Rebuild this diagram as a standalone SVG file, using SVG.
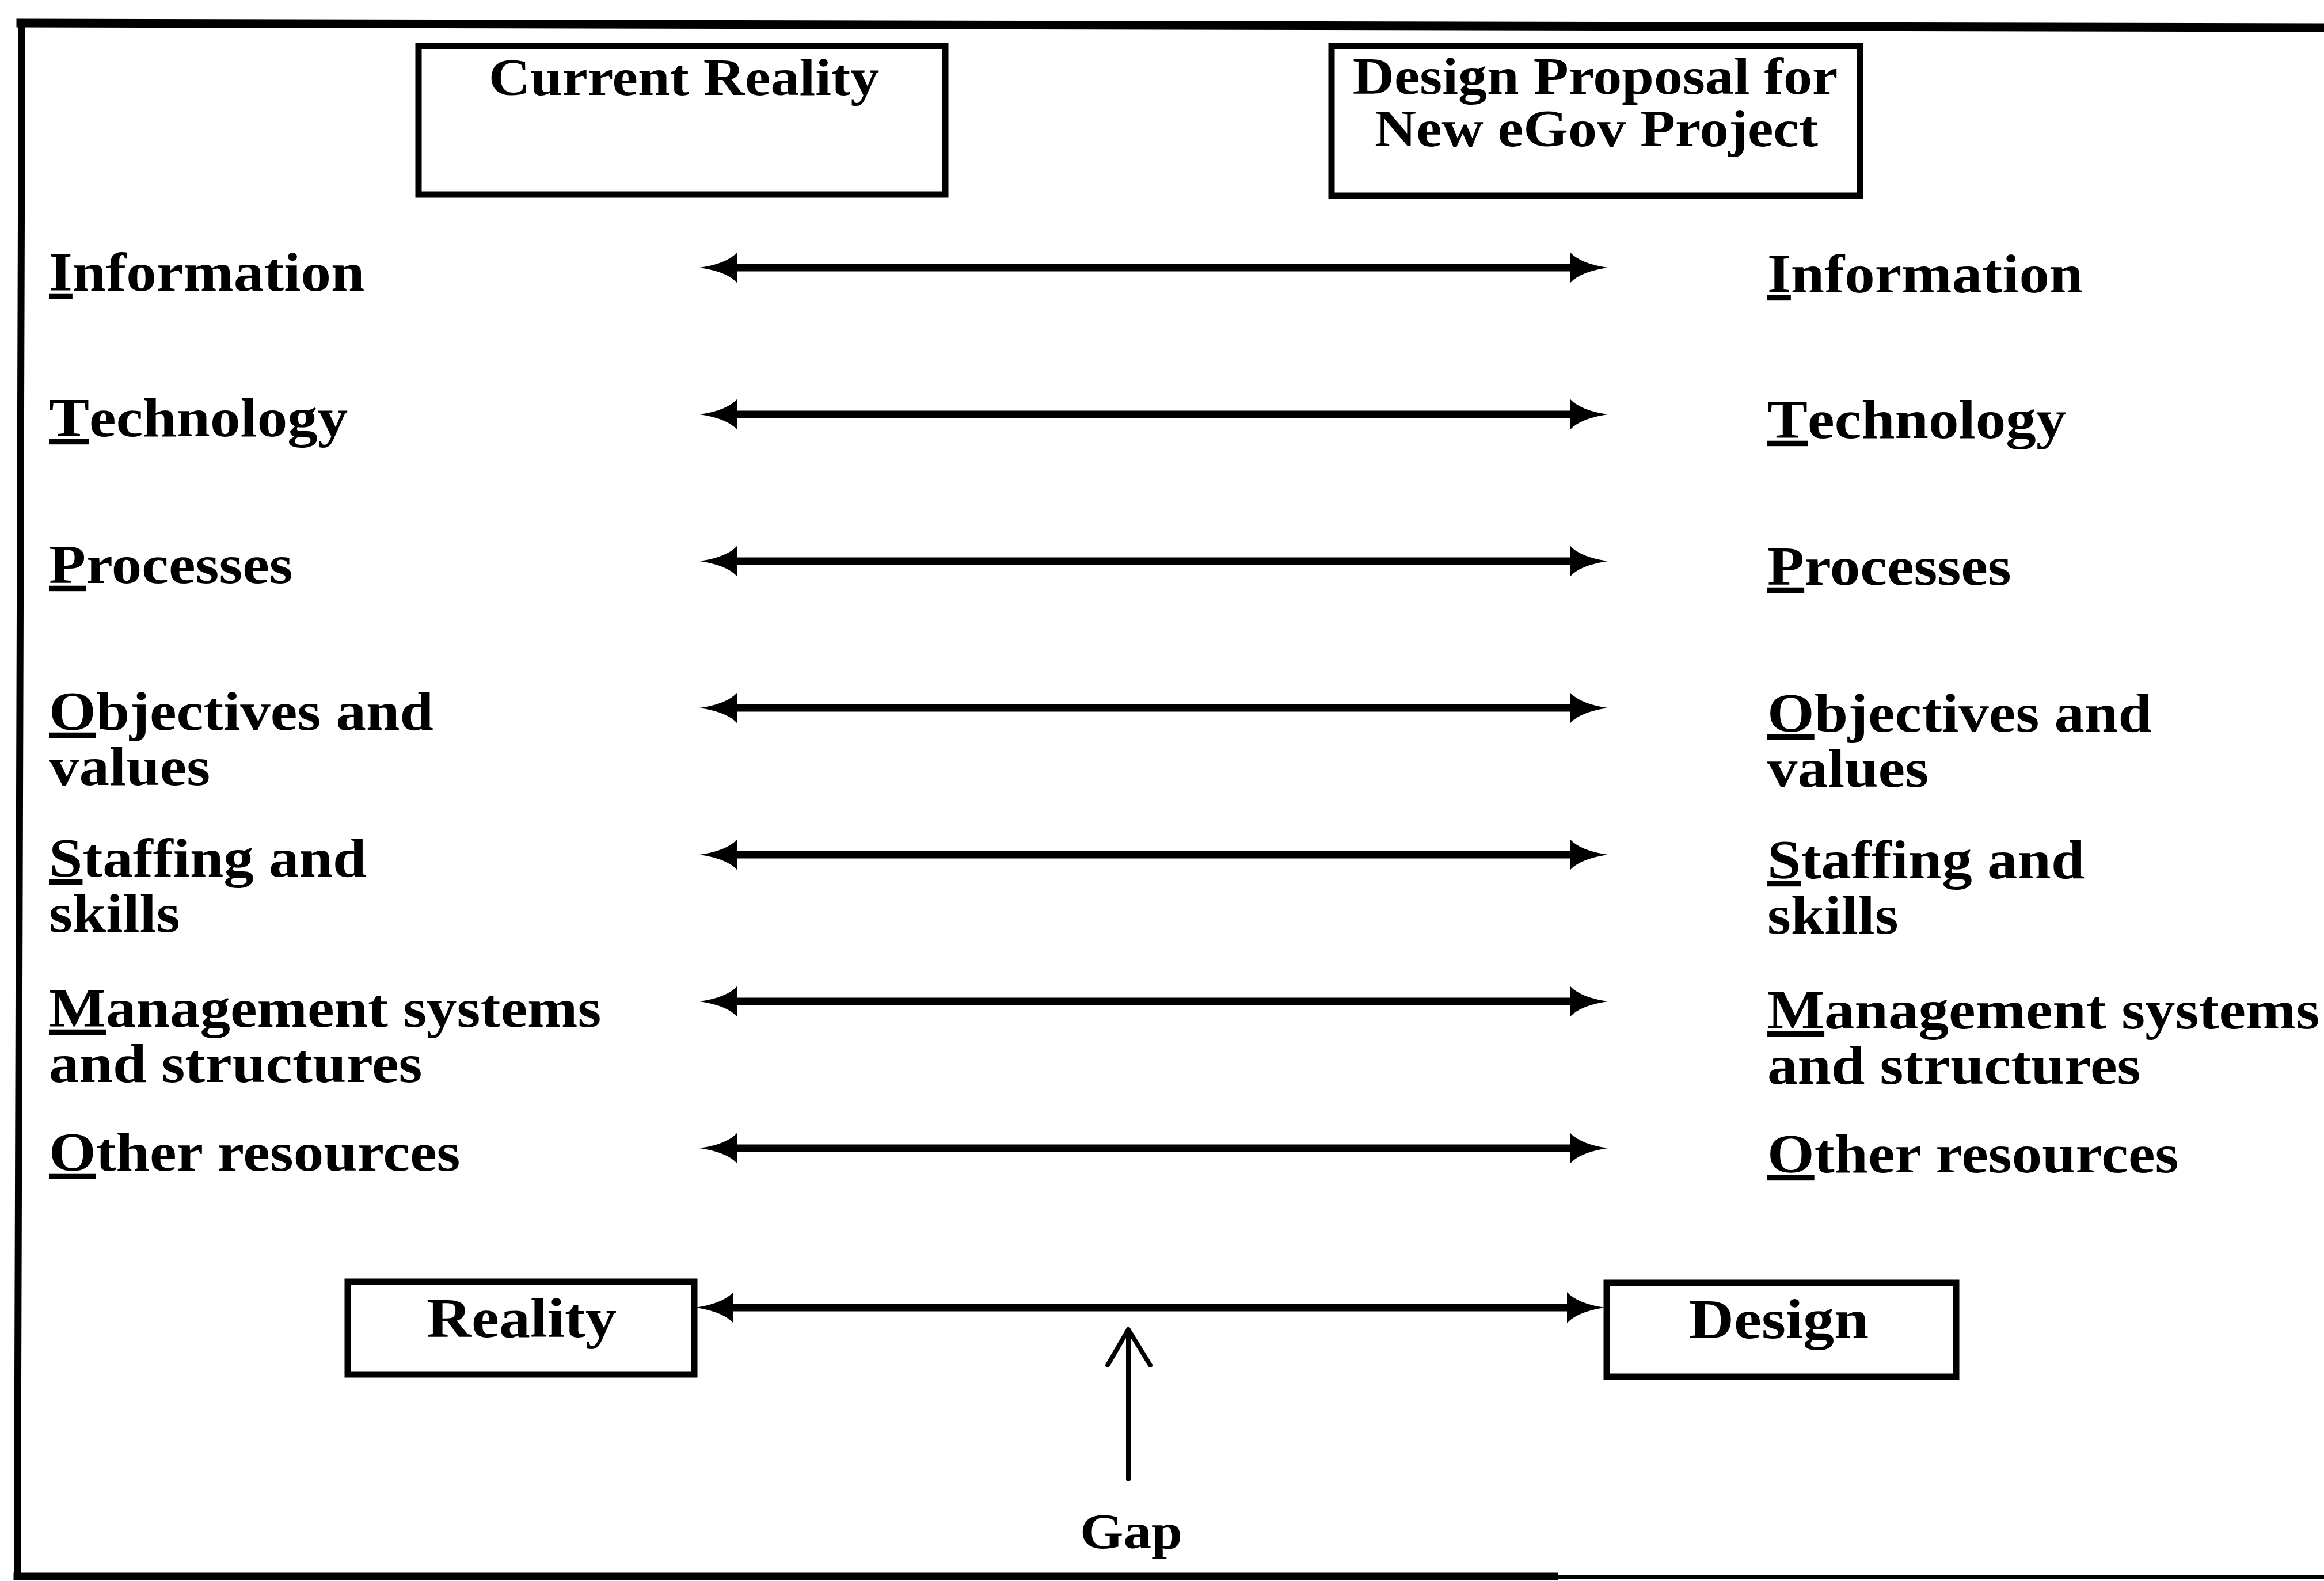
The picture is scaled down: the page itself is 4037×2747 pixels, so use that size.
<svg xmlns="http://www.w3.org/2000/svg" width="4037" height="2747" viewBox="0 0 4037 2747">
  <style>
    .t { font-family: "Liberation Serif", "Times New Roman", serif; font-weight: bold; fill: #000; }
    .lbl { font-size: 105px; }
    .hdr { font-size: 100px; text-anchor: middle; }
    .big { font-size: 108px; text-anchor: middle; }
    .box { fill: #fff; stroke: #000; stroke-width: 11; }
    .frame { fill: none; stroke: #000; stroke-linecap: square; }
    .link { fill: none; stroke: #000; stroke-width: 13; marker-start: url(#head); marker-end: url(#head); }
    .gap { fill: none; stroke: #000; stroke-width: 8; stroke-linecap: round; stroke-linejoin: round; }
  </style>
  <defs>
    <!-- solid arrowhead, base sits on the line end and the tip points outward -->
    <marker id="head" markerUnits="userSpaceOnUse" viewBox="0 0 66 54" refX="0" refY="27" markerWidth="66" markerHeight="54" orient="auto-start-reverse">
      <path d="M0,0 Q18,20 66,27 Q18,34 0,54 Z" fill="#000"/>
    </marker>
  </defs>

  <rect width="4037" height="2747" fill="#fff"/>

  <!-- outer frame: top, left and bottom edges -->
  <g id="frame">
    <line class="frame" x1="36" y1="40" x2="4037" y2="48" stroke-width="15"/>
    <line class="frame" x1="38" y1="40" x2="30" y2="2738" stroke-width="12"/>
    <line class="frame" x1="30" y1="2739" x2="2700" y2="2739" stroke-width="13"/>
    <line class="frame" x1="2700" y1="2740" x2="4037" y2="2740" stroke-width="7"/>
  </g>

  <!-- text is set slightly condensed vertically (scale 1 x 0.9) about its baseline -->
  <g id="current-reality">
    <rect class="box" x="727" y="80" width="915" height="258"/>
    <g transform="translate(1188,165) scale(1,0.9)"><text class="t hdr" x="0" y="0">Current Reality</text></g>
  </g>

  <g id="design-proposal">
    <rect class="box" x="2313" y="80" width="918" height="260"/>
    <g transform="translate(2771,163) scale(1,0.9)"><text class="t hdr" x="0" y="0">Design Proposal for<tspan x="2" y="101">New eGov Project</tspan></text></g>
  </g>

  <!-- left column: current state -->
  <g id="left-information" transform="translate(85,505) scale(1,0.9)"><text class="t lbl"><tspan text-decoration="underline">I</tspan>nformation</text></g>
  <g id="left-technology" transform="translate(85,758) scale(1,0.9)"><text class="t lbl"><tspan text-decoration="underline">T</tspan>echnology</text></g>
  <g id="left-processes" transform="translate(85,1013) scale(1,0.9)"><text class="t lbl"><tspan text-decoration="underline">P</tspan>rocesses</text></g>
  <g id="left-objectives" transform="translate(85,1268) scale(1,0.9)"><text class="t lbl"><tspan text-decoration="underline">O</tspan>bjectives and<tspan x="0" y="107">values</tspan></text></g>
  <g id="left-staffing" transform="translate(85,1523) scale(1,0.9)"><text class="t lbl"><tspan text-decoration="underline">S</tspan>taffing and<tspan x="0" y="107">skills</tspan></text></g>
  <g id="left-management" transform="translate(85,1784) scale(1,0.9)"><text class="t lbl"><tspan text-decoration="underline">M</tspan>anagement systems<tspan x="0" y="107">and structures</tspan></text></g>
  <g id="left-other" transform="translate(85,2034) scale(1,0.9)"><text class="t lbl"><tspan text-decoration="underline">O</tspan>ther resources</text></g>

  <!-- right column: proposed state -->
  <g id="right-information" transform="translate(3070,508) scale(1,0.9)"><text class="t lbl"><tspan text-decoration="underline">I</tspan>nformation</text></g>
  <g id="right-technology" transform="translate(3070,761) scale(1,0.9)"><text class="t lbl"><tspan text-decoration="underline">T</tspan>echnology</text></g>
  <g id="right-processes" transform="translate(3070,1016) scale(1,0.9)"><text class="t lbl"><tspan text-decoration="underline">P</tspan>rocesses</text></g>
  <g id="right-objectives" transform="translate(3070,1271) scale(1,0.9)"><text class="t lbl"><tspan text-decoration="underline">O</tspan>bjectives and<tspan x="0" y="107">values</tspan></text></g>
  <g id="right-staffing" transform="translate(3070,1526) scale(1,0.9)"><text class="t lbl"><tspan text-decoration="underline">S</tspan>taffing and<tspan x="0" y="107">skills</tspan></text></g>
  <g id="right-management" transform="translate(3070,1787) scale(1,0.9)"><text class="t lbl"><tspan text-decoration="underline">M</tspan>anagement systems<tspan x="0" y="107">and structures</tspan></text></g>
  <g id="right-other" transform="translate(3070,2037) scale(1,0.9)"><text class="t lbl"><tspan text-decoration="underline">O</tspan>ther resources</text></g>

  <g id="reality">
    <rect class="box" x="604" y="2227" width="602" height="161"/>
    <g transform="translate(906,2323) scale(1,0.9)"><text class="t big" x="0" y="0">Reality</text></g>
  </g>

  <g id="design">
    <rect class="box" x="2791" y="2229" width="607" height="163"/>
    <g transform="translate(3090,2325) scale(1,0.9)"><text class="t big" x="0" y="0">Design</text></g>
  </g>

  <g id="gap-label" transform="translate(1965,2690) scale(1,0.9)">
    <text class="t" x="0" y="0" font-size="97" text-anchor="middle">Gap</text>
  </g>

  <g id="connectors">
    <line class="link" x1="1281" y1="465" x2="2727" y2="465"/>
    <line class="link" x1="1281" y1="720" x2="2727" y2="720"/>
    <line class="link" x1="1281" y1="975" x2="2727" y2="975"/>
    <line class="link" x1="1281" y1="1230" x2="2727" y2="1230"/>
    <line class="link" x1="1281" y1="1485" x2="2727" y2="1485"/>
    <line class="link" x1="1281" y1="1740" x2="2727" y2="1740"/>
    <line class="link" x1="1281" y1="1995" x2="2727" y2="1995"/>
    <line class="link" x1="1274" y1="2272" x2="2722" y2="2272"/>
    <!-- open-headed pointer from the Gap label up to the gap line -->
    <line class="gap" x1="1960" y1="2570" x2="1960" y2="2312"/>
    <polyline class="gap" points="1924,2372 1960,2310 1998,2372"/>
  </g>
</svg>
